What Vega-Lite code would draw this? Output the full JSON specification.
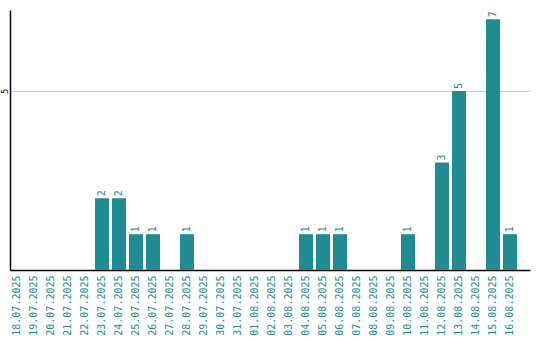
{
  "$schema": "https://vega.github.io/schema/vega-lite/v6.json",
  "width": 520,
  "height": 260,
  "autosize": {"type": "none"},
  "padding": {"left": 10, "top": 10, "right": 10, "bottom": 70},
  "config": {"view": {"stroke": null}, "font": "DejaVu Sans Mono"},
  "data": {"values": [
    {"date": "18.07.2025", "count": 0},
    {"date": "19.07.2025", "count": 0},
    {"date": "20.07.2025", "count": 0},
    {"date": "21.07.2025", "count": 0},
    {"date": "22.07.2025", "count": 0},
    {"date": "23.07.2025", "count": 2},
    {"date": "24.07.2025", "count": 2},
    {"date": "25.07.2025", "count": 1},
    {"date": "26.07.2025", "count": 1},
    {"date": "27.07.2025", "count": 0},
    {"date": "28.07.2025", "count": 1},
    {"date": "29.07.2025", "count": 0},
    {"date": "30.07.2025", "count": 0},
    {"date": "31.07.2025", "count": 0},
    {"date": "01.08.2025", "count": 0},
    {"date": "02.08.2025", "count": 0},
    {"date": "03.08.2025", "count": 0},
    {"date": "04.08.2025", "count": 1},
    {"date": "05.08.2025", "count": 1},
    {"date": "06.08.2025", "count": 1},
    {"date": "07.08.2025", "count": 0},
    {"date": "08.08.2025", "count": 0},
    {"date": "09.08.2025", "count": 0},
    {"date": "10.08.2025", "count": 1},
    {"date": "11.08.2025", "count": 0},
    {"date": "12.08.2025", "count": 3},
    {"date": "13.08.2025", "count": 5},
    {"date": "14.08.2025", "count": 0},
    {"date": "15.08.2025", "count": 7},
    {"date": "16.08.2025", "count": 1}
  ]},
  "encoding": {
    "x": {"field": "date", "type": "ordinal", "sort": null,
      "scale": {"paddingInner": 0.176, "paddingOuter": 0.382, "align": 0},
      "axis": {"title": null, "labelAngle": -90, "labelAlign": "right", "labelBaseline": "middle",
        "labelColor": "#208b92", "labelFont": "DejaVu Sans Mono", "labelFontSize": 10,
        "ticks": false, "domainColor": "#000000", "domainWidth": 1.5, "labelPadding": 5}},
    "y": {"field": "count", "type": "quantitative",
      "scale": {"domain": [0, 7.26], "nice": false},
      "axis": {"title": null, "values": [5], "labelAngle": -90, "labelAlign": "center",
        "labelBaseline": "bottom", "labelFont": "DejaVu Sans Mono", "labelFontSize": 8,
        "labelColor": "#000000", "ticks": false, "labelPadding": 1,
        "domainColor": "#000000", "domainWidth": 1.5, "gridColor": "#c8c8c8", "grid": true}}
  },
  "layer": [
    {"mark": {"type": "bar", "color": "#208b92"}},
    {"transform": [{"filter": "datum.count > 0"}],
     "mark": {"type": "text", "angle": -90, "align": "left", "baseline": "middle", "dx": 2,
       "color": "#208b92", "font": "DejaVu Sans Mono", "fontSize": 10},
     "encoding": {"text": {"field": "count", "type": "quantitative"}}}
  ]
}
